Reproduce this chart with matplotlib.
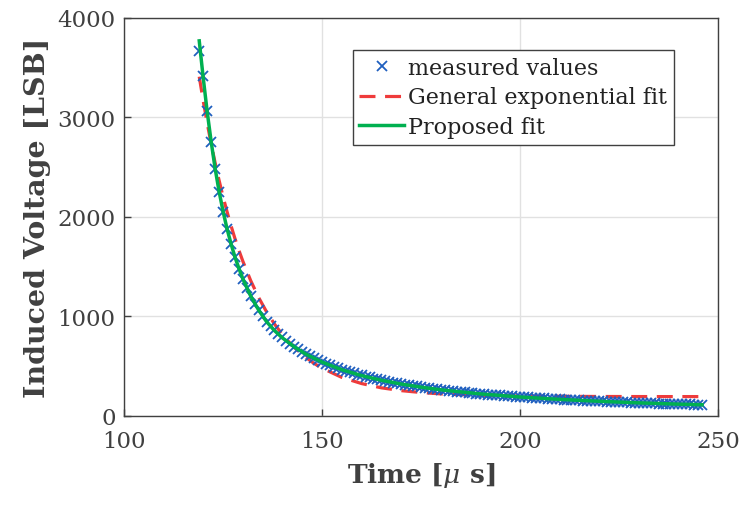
import matplotlib
matplotlib.use("Agg")
import matplotlib.pyplot as plt

plt.rcParams['font.family'] = ['DejaVu Serif']
plt.rcParams['mathtext.fontset'] = 'dejavuserif'

# measured samples, one per microsecond
time_us = list(range(119, 247))
measured = [
    3670, 3420, 3063, 2750, 2480, 2250, 2050, 1880, 1728, 1598,
    1480, 1376, 1287, 1202, 1128, 1062, 1001, 949, 902, 861,
    822, 789, 754, 725, 695, 670, 643, 622, 598, 580,
    559, 543, 524, 510, 493, 480, 464, 453, 439, 429,
    416, 407, 395, 387, 375, 368, 358, 352, 342, 336,
    327, 322, 313, 309, 301, 297, 289, 285, 278, 274,
    267, 264, 259, 254, 250, 245, 242, 237, 234, 229,
    226, 222, 219, 215, 212, 208, 206, 202, 200, 196,
    194, 191, 188, 186, 183, 181, 178, 176, 174, 171,
    170, 167, 165, 163, 160, 159, 156, 155, 153, 151,
    150, 148, 146, 144, 143, 141, 139, 138, 136, 135,
    133, 132, 130, 129, 128, 126, 125, 124, 122, 121,
    120, 119, 118, 117, 116, 115, 114, 113,
]

# general exponential fit (red dashed)
exp_t = [119, 120, 121, 122, 123, 124, 125, 126, 127, 128, 129, 130, 132, 134,
         136, 138, 140, 142, 145, 148, 150, 155, 160, 165, 170, 175, 180, 190,
         200, 210, 220, 235, 246]
exp_v = [3410, 3168, 2945, 2738, 2547, 2370, 2206, 2056, 1916, 1786, 1667, 1557,
         1360, 1191, 1047, 924, 818, 728, 616, 528, 481, 388, 326, 283, 255, 236,
         222, 207, 201, 198, 196, 195, 195]

# proposed fit (green)
prop_t = [119, 120, 121, 122, 123, 124, 125, 126, 127, 128, 129, 130, 132, 134,
          136, 138, 140, 143, 146, 150, 155, 160, 165, 170, 175, 180, 190, 200,
          210, 220, 230, 240, 246]
prop_v = [3770, 3400, 3060, 2760, 2490, 2260, 2060, 1885, 1735, 1600, 1485, 1380,
          1205, 1065, 948, 858, 785, 695, 620, 542, 465, 406, 359, 321, 290, 263,
          222, 191, 167, 148, 132, 119, 113]

fig = plt.figure(figsize=(7.43, 5.06), dpi=100)
ax = fig.add_axes([0.1669, 0.1759, 0.7994, 0.7866])

ax.plot(time_us, measured, linestyle='none', marker='x', color='#1f5fbf',
        markersize=7, markeredgewidth=1.3, label='measured values', zorder=3)
ax.plot(exp_t, exp_v, linestyle=(0, (5, 3)), color='#ef3b3b', linewidth=2.3,
        label='General exponential fit', zorder=2)
ax.plot(prop_t, prop_v, color='#00b050', linewidth=2.5, label='Proposed fit',
        zorder=4)

ax.set_xlim(100, 250)
ax.set_ylim(0, 4000)
ax.set_xticks([100, 150, 200, 250])
ax.set_yticks([0, 1000, 2000, 3000, 4000])

ax.grid(True, color='#e1e1e1', linewidth=1)
ax.set_axisbelow(True)
for s in ax.spines.values():
    s.set_color('#404040')
    s.set_linewidth(1.0)
ax.tick_params(direction='in', length=5, width=1, colors='#404040',
               labelsize=16.5)
ax.tick_params(axis='x', pad=10)
ax.tick_params(axis='y', pad=6)

ax.set_xlabel(r'Time [$\mu$ s]', fontsize=19, fontweight='bold',
              color='#404040', labelpad=6)
ax.set_ylabel('Induced Voltage [LSB]', fontsize=20.5, fontweight='bold',
              color='#404040', labelpad=5)

leg = ax.legend(loc='upper right', bbox_to_anchor=(674 / 743, 1 - 51 / 506),
                bbox_transform=fig.transFigure, fontsize=16, fancybox=False,
                framealpha=1, edgecolor='#404040', borderpad=0.3,
                labelspacing=0.35, handlelength=2.0, handletextpad=0.2,
                borderaxespad=0)
leg.get_frame().set_linewidth(1.0)
for t in leg.get_texts():
    t.set_color('#222222')

fig.savefig('out.png', dpi=100)
